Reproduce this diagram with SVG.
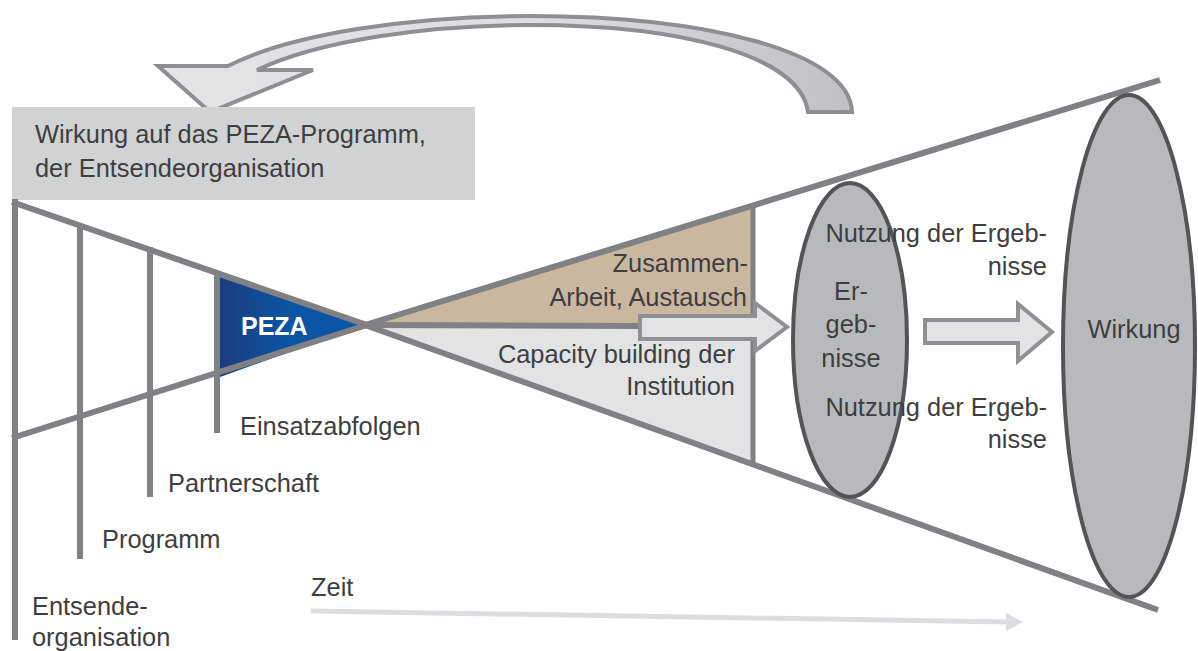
<svg xmlns="http://www.w3.org/2000/svg" width="1198" height="651" viewBox="0 0 1198 651">
<defs>
<style>
.t{font-family:"Liberation Sans",Arial,sans-serif;font-size:25.4px;fill:#3e3e40}
.e{text-anchor:end}
.m{text-anchor:middle}
.ln{stroke:#808185;stroke-width:6;fill:none;stroke-linecap:butt}
.blk{fill:#e2e3e5;stroke:#8f9094;stroke-width:4;stroke-linejoin:miter}
.ell{fill:#b8b9bc;stroke:#545456;stroke-width:4}
</style>
<linearGradient id="gPeza" x1="0" y1="0" x2="1" y2="0">
<stop offset="0" stop-color="#1c3d7c"/>
<stop offset="0.45" stop-color="#0c53a3"/>
<stop offset="1" stop-color="#0a56a8"/>
</linearGradient>
<linearGradient id="gCurve" gradientUnits="userSpaceOnUse" x1="160" y1="0" x2="860" y2="0">
<stop offset="0" stop-color="#e3e4e6"/>
<stop offset="0.55" stop-color="#dcdde0"/>
<stop offset="1" stop-color="#bfc0c3"/>
</linearGradient>
</defs>

<g id="feedback-arrow">
<path d="M852,112 C850,50 700,16 530,16 C410,16 290,34 228,66 L158,66 L210,112 L313,70 L257,70 C320,40 430,25 530,25 C680,25 800,55 808,112 Z" fill="url(#gCurve)" stroke="#8e8f93" stroke-width="4" stroke-linejoin="miter"/>
</g>

<g id="wirkung-box">
<rect x="12" y="107" width="463" height="93" fill="#d1d2d4"/>
<text class="t" x="35" y="143">Wirkung auf das PEZA-Programm,</text>
<text class="t" x="35" y="177">der Entsendeorganisation</text>
</g>

<g id="zusammenarbeit">
<polygon points="367,325 753,207 753,326" fill="#c9b89f"/>
<text class="t e" x="748" y="272">Zusammen-</text>
<text class="t e" x="747" y="306">Arbeit, Austausch</text>
</g>

<g id="capacity">
<polygon points="367,325 753,326 753,465" fill="#e2e3e5"/>
<text class="t e" x="735" y="363">Capacity building der</text>
<text class="t e" x="735" y="395">Institution</text>
</g>

<g id="peza">
<polygon points="220,277 365,325 220,377" fill="url(#gPeza)"/>
<text x="241" y="335" font-family="'Liberation Sans',Arial,sans-serif" font-size="25" font-weight="bold" fill="#ffffff">PEZA</text>
</g>

<g id="connectors">
<line class="ln" x1="753" y1="206" x2="753" y2="465" stroke="#8e8f93" style="stroke-width:5"/>
<line class="ln" x1="367" y1="325" x2="642" y2="326"/>
<polygon class="blk" points="640,316 755,316 755,303 787,327 755,351 755,339 640,339"/>
<polygon class="blk" points="925,320 1018,320 1018,304 1052,332 1018,361 1018,343 925,343"/>
<line class="ln" x1="12" y1="202" x2="367" y2="325"/>
<line class="ln" x1="12" y1="438" x2="367" y2="325"/>
<line class="ln" x1="365" y1="325" x2="1160" y2="80"/>
<line class="ln" x1="365" y1="325" x2="1158" y2="610"/>
<line x1="311" y1="611" x2="1008" y2="622" stroke="#dcdde0" stroke-width="5"/>
<polygon points="1006,613 1023,622 1006,631" fill="#dcdde0"/>
</g>

<g id="ebenen">
<line class="ln" x1="15" y1="199" x2="15" y2="640"/>
<line class="ln" x1="80" y1="223" x2="80" y2="559"/>
<line class="ln" x1="150" y1="247" x2="150" y2="497"/>
<line class="ln" x1="217" y1="271" x2="217" y2="433"/>
<text class="t" x="240" y="435">Einsatzabfolgen</text>
<text class="t" x="168" y="492">Partnerschaft</text>
<text class="t" x="102" y="548">Programm</text>
<text class="t" x="32" y="615">Entsende-</text>
<text class="t" x="32" y="646">organisation</text>
<text class="t" x="311" y="596">Zeit</text>
</g>

<g id="ergebnisse">
<ellipse class="ell" cx="850" cy="340" rx="57" ry="157"/>
<text class="t m" x="851" y="300">Er-</text>
<text class="t m" x="851" y="333">geb-</text>
<text class="t m" x="851" y="367">nisse</text>
</g>

<g id="nutzung">
<text class="t e" x="1047" y="242">Nutzung der Ergeb-</text>
<text class="t e" x="1047" y="275">nisse</text>
<text class="t e" x="1047" y="416">Nutzung der Ergeb-</text>
<text class="t e" x="1047" y="448">nisse</text>
</g>

<g id="wirkung">
<ellipse class="ell" cx="1129" cy="346" rx="66" ry="251"/>
<text class="t m" x="1134" y="338">Wirkung</text>
</g>
</svg>
